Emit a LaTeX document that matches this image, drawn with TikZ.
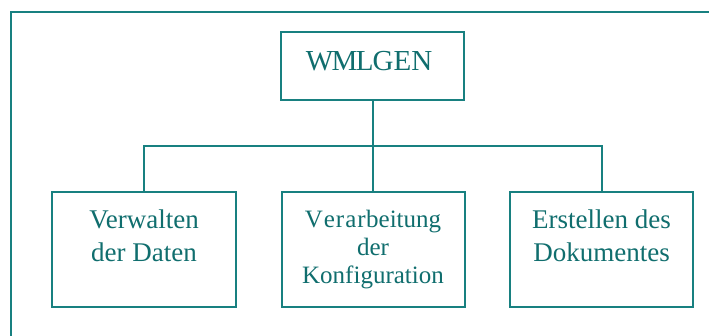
\documentclass[tikz,border=0pt]{standalone}
\usepackage{fontspec}
\setmainfont{Liberation Serif}
\definecolor{teal1}{RGB}{24,128,128}
\definecolor{teal2}{RGB}{16,110,110}
\begin{document}
\begin{tikzpicture}[x=1pt,y=-1pt,
  frameline/.style={draw=teal1,line width=2pt},
  boxnode/.style={draw=teal1,line width=2pt,fill=none,inner sep=0pt,outer sep=0pt},
  conn/.style={draw=teal1,line width=2pt},
  txt/.style={text=teal2,inner sep=0pt,outer sep=0pt,align=center}]
\useasboundingbox[fill=white] (0,0) rectangle (709,336);
% frame (right and bottom edges lie outside the picture)
\coordinate (fbl) at (11,337);
\coordinate (ftl) at (11,12);
\coordinate (ftr) at (710,12);
\draw[frameline,line cap=rect] (fbl) -- (ftl) -- (ftr);
% boxes
\node[boxnode,minimum width=183pt,minimum height=68pt] (top) at (372.5,66) {};
\node[boxnode,minimum width=184pt,minimum height=115pt] (b1) at (144,249.5) {};
\node[boxnode,minimum width=183pt,minimum height=115pt] (b2) at (373.5,249.5) {};
\node[boxnode,minimum width=183pt,minimum height=115pt] (b3) at (601.5,249.5) {};
% texts
\node[txt,anchor=base,font=\fontsize{29}{33}\selectfont] (ttop) at (369,71) {W\kern-1.5pt M\kern-1.5pt L\kern-1pt GEN};
\node[txt,anchor=north,font=\fontsize{27}{33}\selectfont] (t1) at (144,209.5) {Verwalten\\der Daten};
\node[txt,anchor=north,font=\fontsize{25}{28}\selectfont] (t2) at (373,210) {V\kern1pt e\kern1pt r\kern1pt a\kern1pt r\kern0.5pt beitung\\der\\Konfiguration};
\node[txt,anchor=north,font=\fontsize{27}{33}\selectfont] (t3) at (601.5,209.5) {Erstellen des\\Dokumentes};
% connectors
\coordinate (j) at (373,146);
\draw[conn] (top.south) -- (top.south |- b2.north);
\draw[conn] (b1.north) -- (b1.north |- j) -- (b3.north |- j) -- (b3.north);
\end{tikzpicture}
\end{document}
